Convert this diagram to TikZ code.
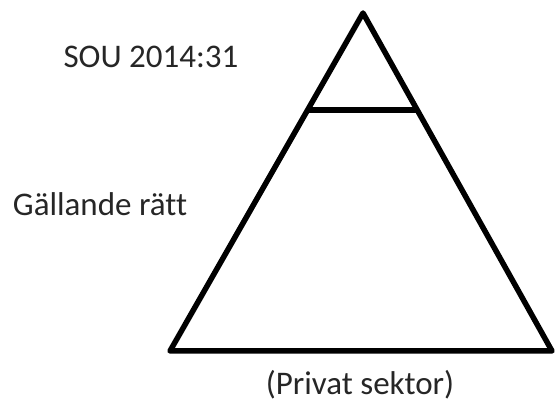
\documentclass[tikz,border=0pt]{standalone}
\usepackage{fontspec}
\setmainfont[Ligatures=NoCommon]{Carlito}
\tikzstyle{lbl}=[font=\fontsize{33}{38}\selectfont,text=black!85,inner sep=0pt]
\tikzstyle{edge}=[draw=black,line width=5.5pt,line join=round]

\begin{document}
\begin{tikzpicture}[x=1pt,y=-1pt]
\useasboundingbox (0,0) rectangle (555,403);
\coordinate (top) at (363,13); \coordinate (bl) at (170,351); \coordinate (br) at (552,351);
\coordinate (cl) at (309,110); \coordinate (cr) at (416,110);
\draw[edge] (top) -- (br) -- (bl) -- cycle;
\draw[edge] (cl) -- (cr);
\node[lbl] (sou) at (151,57) {SOU 2014:31};
\node[lbl] (gr) at (100,204) {Gällande rätt};
\node[lbl] (ps) at (360,385) {(Privat sektor)};
\end{tikzpicture}
\end{document}
